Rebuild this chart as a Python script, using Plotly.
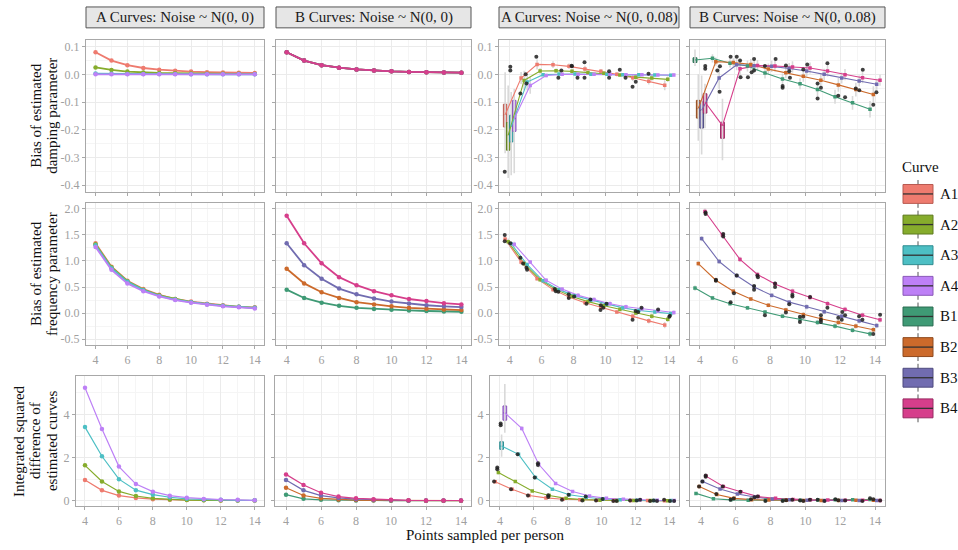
import plotly.graph_objects as go

W, H = 958, 550
SERIF = "Liberation Serif, DejaVu Serif, Tinos, Times New Roman, serif"

N_POINTS = [4, 5, 6, 7, 8, 9, 10, 11, 12, 13, 14]
CURVES_A = ["A1", "A2", "A3", "A4"]
CURVES_B = ["B1", "B2", "B3", "B4"]
COLORS = {"A1": "#EE7B6F", "A2": "#86AC2C", "A3": "#4DBFC4", "A4": "#BD80F6",
          "B1": "#3F9A75", "B2": "#CC6A2B", "B3": "#716CB0", "B4": "#D63E8B"}
DARK = {"A1": "#B85A50", "A2": "#5E7A1F", "A3": "#2F8C90", "A4": "#8A58B8",
        "B1": "#2A6D52", "B2": "#8F4A1E", "B3": "#4E4B7F", "B4": "#982B62"}
DODGE = [-0.285, -0.095, 0.095, 0.285]

STRIP_TITLES = ["A Curves: Noise ~ N(0, 0)", "B Curves: Noise ~ N(0, 0)",
                "A Curves: Noise ~ N(0, 0.08)", "B Curves: Noise ~ N(0, 0.08)"]
ROW_TITLE_LINES = [["Bias of estimated", "damping parameter"],
                   ["Bias of estimated", "frequency parameter"],
                   ["Integrated squared", "difference of", "estimated curves"]]
X_TITLE = "Points sampled per person"
LEGEND_TITLE = "Curve"

# ---------------- noise-free panels ----------------
DAMP_A = {
    "A1": [0.080, 0.050, 0.033, 0.023, 0.017, 0.013, 0.010, 0.008, 0.007, 0.006, 0.005],
    "A2": [0.025, 0.016, 0.010, 0.007, 0.005, 0.004, 0.003, 0.002, 0.002, 0.002, 0.001],
    "A3": [0.003, 0.002, 0.001, 0.001, 0.001, 0.001, 0.000, 0.000, 0.000, 0.000, 0.000],
    "A4": [0.000, 0.000, 0.000, 0.000, 0.000, 0.000, 0.000, 0.000, 0.000, 0.000, 0.000],
}
DAMP_B = {
    "B1": [0.080, 0.050, 0.033, 0.024, 0.018, 0.014, 0.011, 0.009, 0.008, 0.007, 0.006],
    "B2": [0.080, 0.050, 0.033, 0.024, 0.018, 0.014, 0.011, 0.009, 0.008, 0.007, 0.006],
    "B3": [0.080, 0.050, 0.033, 0.024, 0.018, 0.014, 0.011, 0.009, 0.008, 0.007, 0.006],
    "B4": [0.080, 0.050, 0.033, 0.024, 0.018, 0.014, 0.011, 0.009, 0.008, 0.007, 0.006],
}
FREQ_A = {
    "A1": [1.34, 0.89, 0.62, 0.46, 0.35, 0.27, 0.22, 0.18, 0.15, 0.12, 0.11],
    "A2": [1.32, 0.88, 0.61, 0.45, 0.34, 0.27, 0.21, 0.17, 0.14, 0.12, 0.10],
    "A3": [1.30, 0.86, 0.60, 0.44, 0.33, 0.26, 0.21, 0.17, 0.14, 0.12, 0.10],
    "A4": [1.27, 0.83, 0.57, 0.42, 0.32, 0.25, 0.20, 0.16, 0.13, 0.11, 0.09],
}
FREQ_B = {
    "B1": [0.45, 0.29, 0.20, 0.14, 0.10, 0.08, 0.064, 0.05, 0.04, 0.03, 0.025],
    "B2": [0.85, 0.57, 0.40, 0.29, 0.21, 0.165, 0.13, 0.10, 0.083, 0.07, 0.057],
    "B3": [1.34, 0.92, 0.66, 0.47, 0.36, 0.28, 0.22, 0.185, 0.15, 0.13, 0.115],
    "B4": [1.87, 1.34, 0.955, 0.69, 0.535, 0.42, 0.34, 0.27, 0.23, 0.19, 0.166],
}
ISD_A = {
    "A1": [0.97, 0.49, 0.25, 0.14, 0.08, 0.05, 0.04, 0.03, 0.02, 0.02, 0.02],
    "A2": [1.65, 0.90, 0.44, 0.23, 0.12, 0.07, 0.04, 0.03, 0.02, 0.02, 0.02],
    "A3": [3.42, 2.07, 1.01, 0.50, 0.29, 0.17, 0.10, 0.07, 0.05, 0.03, 0.03],
    "A4": [5.24, 3.33, 1.59, 0.78, 0.43, 0.245, 0.15, 0.09, 0.06, 0.05, 0.03],
}
ISD_B = {
    "B1": [0.29, 0.10, 0.05, 0.03, 0.02, 0.02, 0.01, 0.01, 0.01, 0.01, 0.01],
    "B2": [0.61, 0.25, 0.12, 0.07, 0.04, 0.03, 0.02, 0.02, 0.01, 0.01, 0.01],
    "B3": [0.97, 0.49, 0.25, 0.14, 0.08, 0.05, 0.03, 0.02, 0.02, 0.02, 0.02],
    "B4": [1.23, 0.74, 0.38, 0.20, 0.12, 0.08, 0.05, 0.03, 0.02, 0.02, 0.02],
}

# ---------------- noisy panels: medians ----------------
NDAMP_A = {
    "A1": [-0.146, -0.013, 0.036, 0.035, 0.029, 0.019, 0.011, 0.000, -0.012, -0.025, -0.039],
    "A2": [-0.220, -0.022, 0.012, 0.013, 0.011, 0.007, 0.004, -0.002, -0.010, -0.013, -0.018],
    "A3": [-0.190, -0.028, -0.001, 0.001, 0.001, 0.000, 0.000, -0.001, -0.001, -0.002, -0.003],
    "A4": [-0.160, -0.040, -0.004, 0.000, 0.000, 0.000, 0.000, -0.001, -0.001, -0.002, -0.002],
}
NDAMP_B = {
    "B1": [0.052, 0.058, 0.040, 0.030, 0.005, -0.017, -0.034, -0.055, -0.081, -0.103, -0.126],
    "B2": [-0.123, 0.046, 0.043, 0.036, 0.019, 0.006, -0.007, -0.021, -0.038, -0.055, -0.073],
    "B3": [-0.130, -0.013, 0.035, 0.031, 0.029, 0.021, 0.012, 0.000, -0.013, -0.024, -0.036],
    "B4": [-0.100, -0.185, 0.020, 0.032, 0.030, 0.027, 0.023, 0.012, -0.001, -0.012, -0.021],
}
NFREQ_A = {
    "A1": [1.42, 0.98, 0.66, 0.45, 0.31, 0.20, 0.11, 0.02, -0.06, -0.15, -0.23],
    "A2": [1.37, 0.95, 0.64, 0.45, 0.32, 0.22, 0.14, 0.07, 0.00, -0.06, -0.12],
    "A3": [1.33, 0.93, 0.62, 0.45, 0.33, 0.25, 0.17, 0.10, 0.05, 0.02, -0.01],
    "A4": [1.32, 0.98, 0.63, 0.46, 0.34, 0.26, 0.18, 0.12, 0.08, 0.04, 0.01],
}
NFREQ_B = {
    "B1": [0.48, 0.29, 0.18, 0.10, 0.02, -0.06, -0.12, -0.18, -0.25, -0.33, -0.40],
    "B2": [0.95, 0.63, 0.42, 0.27, 0.15, 0.06, -0.03, -0.11, -0.18, -0.25, -0.32],
    "B3": [1.43, 0.99, 0.72, 0.50, 0.34, 0.21, 0.12, 0.025, -0.06, -0.15, -0.24],
    "B4": [1.95, 1.50, 1.03, 0.74, 0.56, 0.42, 0.30, 0.18, 0.07, -0.04, -0.13],
}
NISD_A = {
    "A1": [0.89, 0.54, 0.25, 0.14, 0.08, 0.05, 0.03, 0.02, 0.02, 0.015, 0.01],
    "A2": [1.32, 0.90, 0.46, 0.25, 0.12, 0.06, 0.03, 0.02, 0.02, 0.015, 0.01],
    "A3": [2.54, 2.16, 1.09, 0.54, 0.29, 0.17, 0.09, 0.05, 0.03, 0.02, 0.015],
    "A4": [4.08, 3.36, 1.70, 0.81, 0.44, 0.23, 0.12, 0.08, 0.05, 0.03, 0.02],
}
NISD_B = {
    "B1": [0.35, 0.10, 0.05, 0.03, 0.03, 0.03, 0.03, 0.04, 0.05, 0.06, 0.07],
    "B2": [0.67, 0.30, 0.12, 0.06, 0.04, 0.03, 0.02, 0.02, 0.02, 0.03, 0.03],
    "B3": [0.90, 0.55, 0.32, 0.18, 0.09, 0.05, 0.03, 0.02, 0.02, 0.02, 0.02],
    "B4": [1.15, 0.67, 0.43, 0.20, 0.12, 0.07, 0.05, 0.04, 0.03, 0.03, 0.02],
}

# ---------------- noisy panels: whisker half-lengths ----------------
NDAMP_A_ERR = {
    "A1": [0.0, 0.022, 0.018, 0.012, 0.010, 0.012, 0.008, 0.008, 0.012, 0.012, 0.018],
    "A2": [0.0, 0.035, 0.010, 0.008, 0.008, 0.008, 0.006, 0.006, 0.008, 0.010, 0.010],
    "A3": [0.0, 0.030, 0.006, 0.005, 0.005, 0.005, 0.005, 0.005, 0.005, 0.005, 0.006],
    "A4": [0.0, 0.030, 0.006, 0.005, 0.005, 0.005, 0.005, 0.005, 0.005, 0.005, 0.006],
}
NDAMP_B_ERR = {
    "B1": [0.0, 0.015, 0.015, 0.020, 0.020, 0.020, 0.020, 0.025, 0.025, 0.025, 0.030],
    "B2": [0.0, 0.015, 0.015, 0.020, 0.020, 0.020, 0.020, 0.025, 0.025, 0.025, 0.030],
    "B3": [0.0, 0.040, 0.020, 0.020, 0.020, 0.020, 0.020, 0.020, 0.020, 0.020, 0.020],
    "B4": [0.0, 0.0, 0.030, 0.020, 0.020, 0.020, 0.020, 0.020, 0.020, 0.020, 0.020],
}
NFREQ_A_ERR = {
    "A1": [0.06, 0.05, 0.04, 0.04, 0.04, 0.04, 0.04, 0.04, 0.05, 0.05, 0.06],
    "A2": [0.06, 0.05, 0.04, 0.04, 0.04, 0.04, 0.04, 0.04, 0.04, 0.05, 0.05],
    "A3": [0.05, 0.04, 0.04, 0.04, 0.04, 0.04, 0.04, 0.04, 0.04, 0.04, 0.04],
    "A4": [0.05, 0.04, 0.04, 0.04, 0.04, 0.04, 0.04, 0.04, 0.04, 0.04, 0.04],
}
NFREQ_B_ERR = {
    "B1": [0.05, 0.04, 0.04, 0.04, 0.04, 0.04, 0.05, 0.05, 0.05, 0.05, 0.06],
    "B2": [0.05, 0.04, 0.04, 0.04, 0.04, 0.04, 0.05, 0.05, 0.05, 0.05, 0.06],
    "B3": [0.05, 0.05, 0.04, 0.04, 0.04, 0.04, 0.05, 0.05, 0.05, 0.05, 0.05],
    "B4": [0.06, 0.06, 0.05, 0.05, 0.05, 0.05, 0.05, 0.05, 0.05, 0.05, 0.05],
}
NISD_A_ERR = {
    "A1": [0.06, 0.04, 0.03, 0.02, 0.02, 0.01, 0.01, 0.01, 0.01, 0.01, 0.01],
    "A2": [0.10, 0.06, 0.04, 0.03, 0.02, 0.01, 0.01, 0.01, 0.01, 0.01, 0.01],
    "A3": [0.0, 0.10, 0.08, 0.04, 0.03, 0.02, 0.01, 0.01, 0.01, 0.01, 0.01],
    "A4": [0.0, 0.10, 0.15, 0.06, 0.04, 0.02, 0.01, 0.01, 0.01, 0.01, 0.01],
}
NISD_B_ERR = {
    "B1": [0.04, 0.03, 0.02, 0.02, 0.02, 0.02, 0.02, 0.02, 0.02, 0.02, 0.02],
    "B2": [0.05, 0.04, 0.03, 0.02, 0.02, 0.02, 0.02, 0.02, 0.02, 0.02, 0.02],
    "B3": [0.06, 0.04, 0.03, 0.02, 0.02, 0.02, 0.02, 0.02, 0.02, 0.02, 0.02],
    "B4": [0.07, 0.05, 0.04, 0.03, 0.02, 0.02, 0.02, 0.02, 0.02, 0.02, 0.02],
}

# ---------------- visible boxes: [index, q1, q3, lower whisker, upper whisker] ----------------
NDAMP_A_BOX = {
    "A1": [0, -0.190, -0.108, -0.285, 0.008],
    "A2": [0, -0.274, -0.174, -0.375, -0.040],
    "A3": [0, -0.244, -0.148, -0.365, -0.064],
    "A4": [0, -0.206, -0.094, -0.357, -0.052],
}
NDAMP_B_BOX = {
    "B1": [0, 0.043, 0.060, 0.030, 0.090],
    "B2": [0, -0.158, -0.094, -0.240, 0.000],
    "B3": [0, -0.194, -0.100, -0.290, -0.004],
    "B4": [0, -0.140, -0.070, -0.195, -0.034],
}
NDAMP_B_BOX2 = {"B4": [1, -0.231, -0.173, -0.310, -0.088]}
NISD_A_BOX = {
    "A3": [0, 2.39, 2.74, 2.05, 3.08],
    "A4": [0, 3.74, 4.40, 3.16, 5.42],
}

# ---------------- outliers ----------------
OUT_DAMP_A_X = [3.69, 4.04, 4.04, 4.67, 5.0, 5.05, 5.67, 7.05, 7.24, 7.88, 7.9, 8.25, 8.69, 8.69,
                10.23, 10.23, 10.9, 11.26, 11.7, 11.9, 12.7]
OUT_DAMP_A_Y = [-0.352, 0.028, 0.014, -0.069, 0.0, -0.033, 0.064, -0.012, 0.014, 0.031, 0.029,
                -0.012, 0.044, -0.012, 0.011, -0.012, 0.017, -0.012, -0.045, -0.027, 0.002]
OUT_DAMP_B_X = [4.3, 4.3, 4.99, 5.14, 5.12, 5.75, 6.1, 6.29, 6.32, 6.74, 6.95, 7.09, 7.09, 7.71,
                8.32, 8.72, 8.72, 8.91, 9.1, 9.14, 9.9, 10.13, 10.72, 10.72, 10.91, 11.28, 11.9,
                12.29, 12.9, 13.1, 13.3, 13.9, 14.08]
OUT_DAMP_B_Y = [0.030, 0.020, 0.014, 0.029, -0.063, 0.064, 0.064, 0.05, -0.01, -0.01, 0.008,
                0.014, 0.056, 0.03, 0.056, -0.042, -0.048, 0.032, 0.011, -0.012, 0.018, 0.036,
                -0.087, -0.033, -0.048, 0.04, -0.077, -0.083, -0.051, -0.057, 0.017, -0.11, -0.065]
OUT_FREQ_A_X = [3.69, 3.69, 4.04, 4.67, 4.84, 5.05, 5.09, 6.82, 6.89, 7.05, 7.7, 7.7, 8.04, 8.81,
                9.06, 9.69, 9.71, 9.86, 10.07, 11.7, 11.89, 12.05, 12.26, 13.3, 14.0, 14.04]
OUT_FREQ_A_Y = [1.50, 1.38, 1.34, 1.06, 0.95, 0.87, 0.83, 0.46, 0.42, 0.41, 0.29, 0.36, 0.32, 0.18,
                0.26, 0.06, 0.15, 0.10, 0.18, -0.13, 0.04, 0.02, 0.10, 0.07, -0.07, -0.05]
OUT_FREQ_B_X = [4.32, 4.32, 5.33, 5.33, 4.91, 4.91, 5.94, 5.75, 6.1, 7.28, 7.31, 7.09, 7.09, 8.29,
                8.29, 7.71, 9.28, 9.28, 9.1, 8.91, 9.71, 9.71, 9.9, 10.29, 10.91, 10.91, 10.91,
                11.28, 11.9, 12.1, 12.13, 12.29, 13.09, 13.28, 14.29, 13.9]
OUT_FREQ_B_Y = [1.93, 1.90, 1.52, 1.47, 0.64, 0.62, 0.38, 0.21, 0.72, 0.72, 0.69, 0.52, 0.45, 0.57,
                0.50, -0.04, 0.35, 0.32, 0.17, 0.01, -0.07, -0.17, -0.07, 0.31, -0.04, -0.13, -0.17,
                0.10, -0.09, -0.13, 0.02, -0.04, -0.06, -0.13, -0.03, -0.40]
OUT_ISD_A_X = [4.04, 4.04, 3.84, 3.84, 3.65, 4.65, 5.04, 5.65, 6.05, 6.24, 6.24, 6.85, 6.85, 7.66,
               8.05, 8.86, 9.06, 9.67, 10.06, 10.69, 10.89, 11.68, 12.07, 12.27, 12.86, 13.07,
               13.27, 13.69, 14.04, 14.28]
OUT_ISD_A_Y = [3.59, 3.51, 1.55, 1.47, 0.90, 0.54, 2.16, 0.25, 1.09, 1.75, 1.67, 0.26, 0.18, 0.05,
               0.29, 0.02, 0.20, 0.02, 0.09, 0.0, 0.0, 0.02, 0.02, 0.05, 0.0, 0.02, 0.0, 0.05, 0.0, 0.0]
OUT_ISD_B_X = [3.89, 4.08, 4.27, 4.27, 4.88, 5.25, 5.7, 5.88, 6.26, 6.87, 7.07, 7.26, 7.7, 8.69,
               8.89, 9.25, 9.69, 9.88, 10.26, 10.7, 11.09, 11.72, 11.89, 12.28, 13.27, 13.71, 13.9, 14.29]
OUT_ISD_B_Y = [0.67, 0.90, 1.18, 1.12, 0.32, 0.67, 0.05, 0.11, 0.43, 0.08, 0.17, 0.20, 0.0, 0.0,
               0.03, 0.05, 0.02, 0.0, 0.05, 0.05, 0.0, 0.08, 0.03, 0.02, 0.0, 0.12, 0.08, 0.02]

# ---------------- layout geometry (pixels) ----------------
ROW_PX = [(39, 192), (203, 346), (377, 508)]
COL_PX = [[(86, 264), (276, 471), (499, 679), (690, 885)],
          [(86, 264), (276, 471), (499, 679), (690, 885)],
          [(76, 264), (275, 471), (490, 679), (690, 885)]]
X_RANGES = [[[3.4, 14.58], [3.39, 14.55], [3.33, 14.61], [3.43, 14.57]],
            [[3.4, 14.58], [3.39, 14.55], [3.33, 14.61], [3.43, 14.57]],
            [[3.47, 14.55], [3.37, 14.57], [3.41, 14.57], [3.37, 14.57]]]
Y_RANGES = [[-0.425, 0.125], [-0.615, 2.115], [-0.245, 5.79]]
Y_TICKS = [[0.1, 0.0, -0.1, -0.2, -0.3, -0.4], [2.0, 1.5, 1.0, 0.5, 0.0, -0.5], [0, 2, 4]]
Y_TICKTEXT = [["0.1", "0.0", "-0.1", "-0.2", "-0.3", "-0.4"],
              ["2.0", "1.5", "1.0", "0.5", "0.0", "-0.5"], ["0", "2", "4"]]
Y_MINOR = [[0.05, -0.05, -0.15, -0.25, -0.35], [1.75, 1.25, 0.75, 0.25, -0.25], [1, 3, 5]]
X_TICKS = [4, 6, 8, 10, 12, 14]
X_MINOR = [5, 7, 9, 11, 13]

PANEL_DATA = [
    [(DAMP_A, CURVES_A, None, None, None), (DAMP_B, CURVES_B, None, None, None),
     (NDAMP_A, CURVES_A, NDAMP_A_ERR, [NDAMP_A_BOX], (OUT_DAMP_A_X, OUT_DAMP_A_Y)),
     (NDAMP_B, CURVES_B, NDAMP_B_ERR, [NDAMP_B_BOX, NDAMP_B_BOX2], (OUT_DAMP_B_X, OUT_DAMP_B_Y))],
    [(FREQ_A, CURVES_A, None, None, None), (FREQ_B, CURVES_B, None, None, None),
     (NFREQ_A, CURVES_A, NFREQ_A_ERR, [], (OUT_FREQ_A_X, OUT_FREQ_A_Y)),
     (NFREQ_B, CURVES_B, NFREQ_B_ERR, [], (OUT_FREQ_B_X, OUT_FREQ_B_Y))],
    [(ISD_A, CURVES_A, None, None, None), (ISD_B, CURVES_B, None, None, None),
     (NISD_A, CURVES_A, NISD_A_ERR, [NISD_A_BOX], (OUT_ISD_A_X, OUT_ISD_A_Y)),
     (NISD_B, CURVES_B, NISD_B_ERR, [], (OUT_ISD_B_X, OUT_ISD_B_Y))],
]

GRID = "#EBEBEB"
MINOR_GRID = "#F5F5F5"
AXIS_LINE = "#A8A8A8"
TICK_FONT = dict(family=SERIF, size=12, color="#A0A0A0")

fig = go.Figure()
layout = {}


def px_x(v):
    return v / W


def px_y(v):
    return 1 - v / H


for r in range(3):
    for c in range(4):
        idx = r * 4 + c + 1
        sfx = "" if idx == 1 else str(idx)
        x0, x1 = COL_PX[r][c]
        y0, y1 = ROW_PX[r]
        layout["xaxis" + sfx] = dict(
            domain=[px_x(x0), px_x(x1)], anchor="y" + sfx, range=X_RANGES[r][c],
            tickvals=X_TICKS, ticktext=[str(t) for t in X_TICKS],
            showticklabels=(r > 0), ticks="outside", ticklen=3, tickcolor=AXIS_LINE,
            showline=True, mirror=True, linecolor=AXIS_LINE, linewidth=1,
            showgrid=True, gridcolor=GRID, gridwidth=1, zeroline=False,
            minor=dict(tickvals=X_MINOR, showgrid=True, gridcolor=MINOR_GRID, ticks=""),
            tickfont=TICK_FONT, fixedrange=True)
        layout["yaxis" + sfx] = dict(
            domain=[px_y(y1), px_y(y0)], anchor="x" + sfx, range=Y_RANGES[r],
            tickvals=Y_TICKS[r], ticktext=Y_TICKTEXT[r],
            showticklabels=(c in (0, 2)), ticks="outside", ticklen=3, tickcolor=AXIS_LINE,
            showline=True, mirror=True, linecolor=AXIS_LINE, linewidth=1,
            showgrid=True, gridcolor=GRID, gridwidth=1, zeroline=False,
            minor=dict(tickvals=Y_MINOR[r], showgrid=True, gridcolor=MINOR_GRID, ticks=""),
            tickfont=TICK_FONT, fixedrange=True)

        data, curves, errs, boxes, outliers = PANEL_DATA[r][c]
        xa, ya = "x" + sfx, "y" + sfx
        if errs is None:
            lw = 1.8 if r < 2 else 1.2
            for cv in curves:
                fig.add_trace(go.Scatter(
                    x=N_POINTS, y=data[cv], mode="lines+markers", xaxis=xa, yaxis=ya,
                    line=dict(color=COLORS[cv], width=lw),
                    marker=dict(size=4.5, color=COLORS[cv]), showlegend=False,
                    hoverinfo="skip"))
            continue

        big = {}
        for bd in boxes:
            for cv, spec in bd.items():
                big[(cv, spec[0])] = spec
        wx, wy = [], []
        for i, cv in enumerate(curves):
            for j, n in enumerate(N_POINTS):
                xv = n + DODGE[i]
                if (cv, j) in big:
                    lo, hi = big[(cv, j)][3], big[(cv, j)][4]
                else:
                    lo, hi = data[cv][j] - errs[cv][j], data[cv][j] + errs[cv][j]
                wx += [xv, xv, None]
                wy += [lo, hi, None]
        fig.add_trace(go.Scatter(x=wx, y=wy, mode="lines", xaxis=xa, yaxis=ya,
                                 line=dict(color="#D9D9D9", width=1.6),
                                 showlegend=False, hoverinfo="skip"))
        for i, cv in enumerate(curves):
            xs = [n + DODGE[i] for n in N_POINTS]
            fig.add_trace(go.Scatter(x=xs, y=data[cv], mode="lines", xaxis=xa, yaxis=ya,
                                     line=dict(color=COLORS[cv], width=1.1),
                                     showlegend=False, hoverinfo="skip"))
        for i, cv in enumerate(curves):
            xs = [n + DODGE[i] for j, n in enumerate(N_POINTS) if (cv, j) not in big]
            ys = [data[cv][j] for j in range(len(N_POINTS)) if (cv, j) not in big]
            fig.add_trace(go.Scatter(x=xs, y=ys, mode="markers", xaxis=xa, yaxis=ya,
                                     marker=dict(symbol="square", size=3.5, color=COLORS[cv],
                                                 line=dict(width=0)),
                                     showlegend=False, hoverinfo="skip"))
        for i, cv in enumerate(curves):
            for j in range(len(N_POINTS)):
                if (cv, j) in big:
                    spec = big[(cv, j)]
                    fig.add_trace(go.Box(
                        x=[N_POINTS[j] + DODGE[i]], q1=[spec[1]], median=[data[cv][j]],
                        q3=[spec[2]], lowerfence=[spec[1]], upperfence=[spec[2]],
                        width=0.22, fillcolor=COLORS[cv], line=dict(color=DARK[cv], width=1),
                        boxpoints=False, xaxis=xa, yaxis=ya, showlegend=False,
                        hoverinfo="skip"))
        fig.add_trace(go.Scatter(x=outliers[0], y=outliers[1], mode="markers", xaxis=xa, yaxis=ya,
                                 marker=dict(size=4, color="rgba(30,30,30,0.85)", line=dict(width=0)),
                                 showlegend=False, hoverinfo="skip"))

shapes = []
annotations = []
for c in range(4):
    x0, x1 = COL_PX[0][c]
    shapes.append(dict(type="rect", xref="paper", yref="paper",
                       x0=px_x(x0), x1=px_x(x1), y0=px_y(27), y1=px_y(6),
                       fillcolor="#E6E6E6", line=dict(color="#555555", width=1)))
    annotations.append(dict(text=STRIP_TITLES[c], xref="paper", yref="paper",
                            x=px_x((x0 + x1) / 2), y=px_y(16.5), showarrow=False,
                            xanchor="center", yanchor="middle",
                            font=dict(family=SERIF, size=15, color="#1A1A1A")))
ROW_TITLE_XS = [[36, 52], [36, 52], [19, 35, 52]]
for r in range(3):
    y0, y1 = ROW_PX[r]
    for line, xpos in zip(ROW_TITLE_LINES[r], ROW_TITLE_XS[r]):
        annotations.append(dict(text=line, xref="paper", yref="paper",
                                x=px_x(xpos), y=px_y((y0 + y1) / 2), showarrow=False,
                                textangle=-90, xanchor="center", yanchor="middle",
                                font=dict(family=SERIF, size=15, color="#111111")))
annotations.append(dict(text=X_TITLE, xref="paper", yref="paper", x=px_x(485), y=px_y(537),
                        showarrow=False, xanchor="center", yanchor="middle",
                        font=dict(family=SERIF, size=15, color="#111111")))
annotations.append(dict(text=LEGEND_TITLE, xref="paper", yref="paper", x=px_x(900), y=px_y(167),
                        showarrow=False, xanchor="left", yanchor="middle",
                        font=dict(family=SERIF, size=15, color="#111111")))
for k, cv in enumerate(CURVES_A + CURVES_B):
    cy = 194 + 30.8 * k
    shapes.append(dict(type="line", xref="paper", yref="paper", x0=px_x(918), x1=px_x(918),
                       y0=px_y(cy - 14), y1=px_y(cy + 14), line=dict(color="#555555", width=1)))
    shapes.append(dict(type="rect", xref="paper", yref="paper", x0=px_x(903), x1=px_x(933),
                       y0=px_y(cy + 9.5), y1=px_y(cy - 9.5), fillcolor=COLORS[cv],
                       line=dict(color=DARK[cv], width=1)))
    shapes.append(dict(type="line", xref="paper", yref="paper", x0=px_x(903), x1=px_x(933),
                       y0=px_y(cy), y1=px_y(cy), line=dict(color="#333333", width=1.3)))
    annotations.append(dict(text=cv, xref="paper", yref="paper", x=px_x(938), y=px_y(cy),
                            showarrow=False, xanchor="left", yanchor="middle",
                            font=dict(family=SERIF, size=15, color="#111111")))

fig.update_layout(
    width=W, height=H, margin=dict(l=0, r=0, t=0, b=0),
    font=dict(family=SERIF),
    paper_bgcolor="white", plot_bgcolor="white", showlegend=False,
    boxmode="overlay", shapes=shapes, annotations=annotations, **layout)

fig.write_html("out.html")
